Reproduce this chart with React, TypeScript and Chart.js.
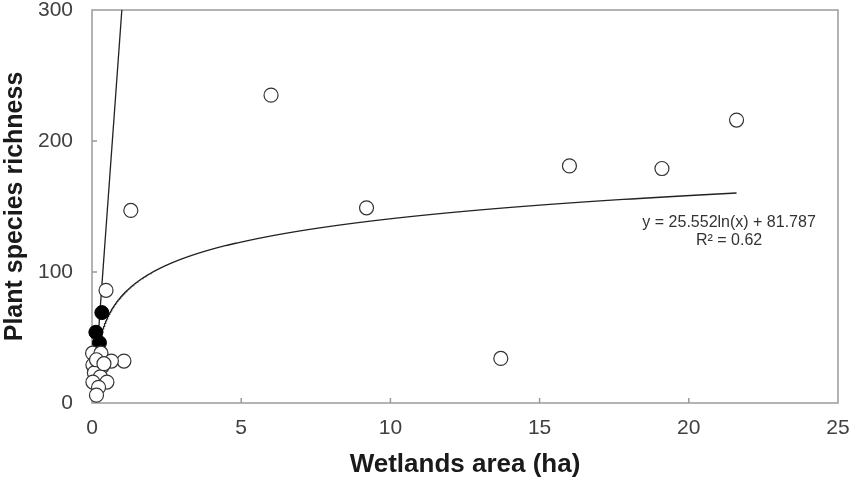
import React, { useEffect, useRef } from "react";
import { Chart, registerables } from "chart.js";

Chart.register(...registerables);

// Open-circle sites: wetland area (ha) and plant species richness
const openAreaHa = [6.0, 9.2, 1.3, 16.0, 19.1, 21.6, 13.7, 0.47, 1.07,
  0.02, 0.3, 0.65, 0.03, 0.35, 0.08, 0.28, 0.03, 0.5, 0.22, 0.15, 0.15, 0.4];
const openRichness = [235, 149, 147, 181, 179, 216, 34, 86, 32,
  38, 38, 32, 29, 28, 23, 20, 16, 16, 12, 6, 33, 30];

// Filled-circle sites
const filledAreaHa = [0.33, 0.13, 0.25];
const filledRichness = [69, 54, 46];

// Steep straight line (end points)
const steepLineX = [0.08, 1.0];
const steepLineY = [11, 300];

// Logarithmic trend line: y = a ln(x) + b
const trendA = 25.552;
const trendB = 81.787;
const trendStartX = 0.25;
const trendEndX = 21.6;
const trendLabel = ["y = 25.552ln(x) + 81.787", "R² = 0.62"];

const xTicks = [0, 5, 10, 15, 20, 25];
const yTicks = [0, 100, 200, 300];

const FONT = "'Liberation Sans', Arial, Helvetica, sans-serif";

export default function App() {
  const ref = useRef<HTMLCanvasElement | null>(null);

  useEffect(() => {
    if (!ref.current) return;
    const openPts = openAreaHa.map((x, i) => ({ x, y: openRichness[i] }));
    const filledPts = filledAreaHa.map((x, i) => ({ x, y: filledRichness[i] }));
    const steepPts = steepLineX.map((x, i) => ({ x, y: steepLineY[i] }));
    const trendPts: { x: number; y: number }[] = [];
    const n = 300;
    const l0 = Math.log(trendStartX);
    const l1 = Math.log(trendEndX);
    for (let i = 0; i <= n; i++) {
      const x = Math.exp(l0 + ((l1 - l0) * i) / n);
      trendPts.push({ x, y: trendA * Math.log(x) + trendB });
    }

    const framePlugin = {
      id: "frame",
      beforeDatasetsDraw(chart: any) {
        const { ctx, chartArea: a, scales } = chart;
        ctx.save();
        ctx.strokeStyle = "#9a9a9a";
        ctx.lineWidth = 1.5;
        ctx.strokeRect(a.left, a.top, a.right - a.left, a.bottom - a.top);
        ctx.beginPath();
        xTicks.forEach((t) => {
          if (t === xTicks[0] || t === xTicks[xTicks.length - 1]) return;
          const px = scales.x.getPixelForValue(t);
          ctx.moveTo(px, a.bottom);
          ctx.lineTo(px, a.bottom - 5);
        });
        yTicks.forEach((t) => {
          if (t === yTicks[0] || t === yTicks[yTicks.length - 1]) return;
          const py = scales.y.getPixelForValue(t);
          ctx.moveTo(a.left, py);
          ctx.lineTo(a.left + 5, py);
        });
        ctx.stroke();
        ctx.restore();
      },
      afterDatasetsDraw(chart: any) {
        const { ctx, scales } = chart;
        ctx.save();
        ctx.fillStyle = "#333333";
        ctx.font = `16px ${FONT}`;
        ctx.textAlign = "center";
        ctx.textBaseline = "middle";
        const cx = scales.x.getPixelForValue(21.35);
        const cy = scales.y.getPixelForValue(138);
        ctx.fillText(trendLabel[0], cx, cy);
        ctx.fillText(trendLabel[1], cx, cy + 18);
        ctx.restore();
      },
    };

    const chart = new Chart(ref.current, {
      type: "scatter",
      data: {
        datasets: [
          {
            label: "open",
            data: openPts,
            pointRadius: 7,
            pointBorderWidth: 1.2,
            pointBorderColor: "#333333",
            pointBackgroundColor: "#ffffff",
            clip: false,
            order: 0,
          },
          {
            label: "filled",
            data: filledPts,
            pointRadius: 7,
            pointBorderWidth: 1,
            pointBorderColor: "#000000",
            pointBackgroundColor: "#000000",
            clip: false,
            order: 0,
          },
          {
            type: "line",
            label: "steep",
            data: steepPts,
            showLine: true,
            borderColor: "#222222",
            borderWidth: 1.3,
            pointRadius: 0,
            fill: false,
            order: 1,
          },
          {
            type: "line",
            label: "trend",
            data: trendPts,
            showLine: true,
            borderColor: "#222222",
            borderWidth: 1.3,
            pointRadius: 0,
            tension: 0,
            fill: false,
            order: 1,
          },
        ] as any,
      },
      options: {
        animation: false,
        responsive: false,
        maintainAspectRatio: false,
        layout: { padding: { left: 0, right: 15, top: 10, bottom: 0 } },
        plugins: { legend: { display: false }, tooltip: { enabled: false } },
        scales: {
          x: {
            type: "linear",
            min: 0,
            max: 25,
            grid: { display: false },
            border: { display: false },
            afterBuildTicks: (s: any) => {
              s.ticks = xTicks.map((v) => ({ value: v }));
            },
            afterFit: (s: any) => {
              s.height = 77;
              s.paddingLeft = 0;
              s.paddingRight = 0;
            },
            ticks: {
              padding: 5,
              color: "#404040",
              font: { family: FONT, size: 21 },
            },
            title: {
              display: true,
              text: "Wetlands area (ha)",
              color: "#1a1a1a",
              font: { family: FONT, size: 26, weight: "bold" },
              padding: 0,
            },
          },
          y: {
            type: "linear",
            min: 0,
            max: 300,
            grid: { display: false },
            border: { display: false },
            afterBuildTicks: (s: any) => {
              s.ticks = yTicks.map((v) => ({ value: v }));
            },
            afterFit: (s: any) => {
              s.width = 92;
              s.paddingTop = 0;
              s.paddingBottom = 0;
            },
            ticks: {
              padding: 11,
              color: "#404040",
              font: { family: FONT, size: 21 },
            },
            title: {
              display: true,
              text: "Plant species richness",
              color: "#1a1a1a",
              font: { family: FONT, size: 25, weight: "bold" },
              padding: 0,
            },
          },
        },
      },
      plugins: [framePlugin],
    });
    return () => chart.destroy();
  }, []);

  return (
    <div style={{ position: "absolute", left: 0, top: 0, width: 853, height: 480, background: "#fff" }}>
      <canvas ref={ref} width={853} height={480} style={{ display: "block", width: 853, height: 480 }} />
    </div>
  );
}
